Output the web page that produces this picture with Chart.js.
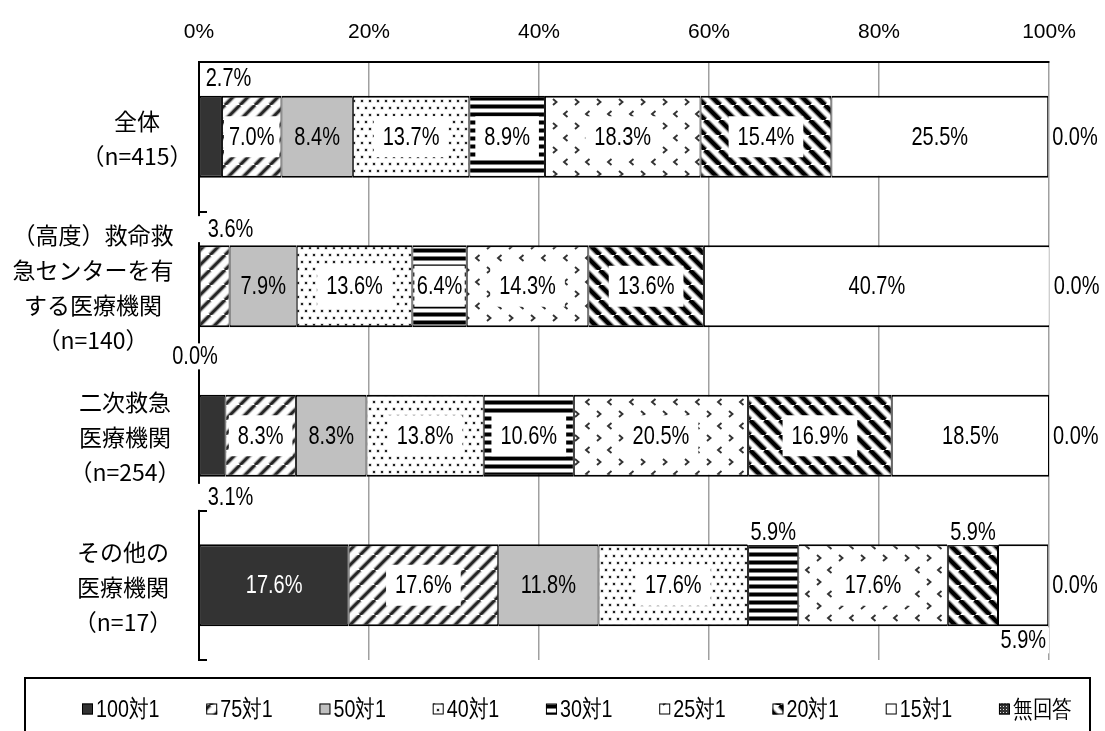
<!DOCTYPE html>
<html lang="ja">
<head>
<meta charset="utf-8">
<title>病床配置の割合</title>
<script src="https://cdn.jsdelivr.net/npm/chart.js@4.4.1/dist/chart.umd.min.js"></script>
<style>
  html, body { margin: 0; padding: 0; background: #fff; }
  #wrap { width: 1105px; height: 731px; position: relative; }
</style>
</head>
<body>
<div id="wrap"><canvas id="c" width="1105" height="731"></canvas></div>
<script>
// ---- data ----
const categories = [
  ['全体', '（n=415）'],
  ['（高度）救命救', '急センターを有', 'する医療機関', '（n=140）'],
  ['二次救急', '医療機関', '（n=254）'],
  ['その他の', '医療機関', '（n=17）']
];
const seriesNames = ['100対1', '75対1', '50対1', '40対1', '30対1', '25対1', '20対1', '15対1', '無回答'];
const r100 = [2.7, 0.0, 3.1, 17.6];
const r75  = [7.0, 3.6, 8.3, 17.6];
const r50  = [8.4, 7.9, 8.3, 11.8];
const r40  = [13.7, 13.6, 13.8, 17.6];
const r30  = [8.9, 6.4, 10.6, 5.9];
const r25  = [18.3, 14.3, 20.5, 17.6];
const r20  = [15.4, 13.6, 16.9, 5.9];
const r15  = [25.5, 40.7, 18.5, 5.9];
const rNone = [0.0, 0.0, 0.0, 0.0];
const tickValues = [0, 20, 40, 60, 80, 100];
const seriesValues = [r100, r75, r50, r40, r30, r25, r20, r15, rNone];

// ---- fill patterns ----
function makePattern(w, h, paint) {
  const c = document.createElement('canvas');
  c.width = w; c.height = h;
  const g = c.getContext('2d');
  g.fillStyle = '#fff';
  g.fillRect(0, 0, w, h);
  paint(g, w, h);
  return g.createPattern(c, 'repeat');
}
function diagonal(g, s, rising) {
  g.beginPath();
  for (let k = -1; k <= 1; k++) {
    if (rising) { g.moveTo(k * s, s); g.lineTo(k * s + s, 0); }
    else { g.moveTo(k * s, 0); g.lineTo(k * s + s, s); }
  }
  g.stroke();
}
const fillSolidDark = '#333333';
const fillRising = makePattern(15, 15, (g, s) => {
  g.strokeStyle = '#bdbdbd'; g.lineWidth = 5.4; diagonal(g, s, true);
  g.strokeStyle = '#262626'; g.lineWidth = 2.9; diagonal(g, s, true);
});
const fillGray = '#c0c0c0';
const fillDots = makePattern(8, 14, (g) => {
  g.fillStyle = '#bbb';
  g.fillRect(0.5, 1.5, 3, 3);
  g.fillRect(4.5, 8.5, 3, 3);
  g.fillStyle = '#222';
  g.fillRect(1, 2, 2, 2);
  g.fillRect(5, 9, 2, 2);
});
const fillHoriz = makePattern(8, 8, (g) => {
  g.fillStyle = '#9a9a9a'; g.fillRect(0, 0, 8, 5);
  g.fillStyle = '#000'; g.fillRect(0, 0.8, 8, 3.4);
});
const fillChevron = makePattern(22, 24, (g) => {
  g.strokeStyle = '#333'; g.lineWidth = 1.9;
  g.beginPath();
  g.moveTo(3, 3); g.lineTo(6.5, 6); g.lineTo(3, 9);
  g.moveTo(17.5, 15); g.lineTo(14, 18); g.lineTo(17.5, 21);
  g.stroke();
});
const fillFalling = makePattern(15, 15, (g, s) => {
  g.strokeStyle = '#9a9a9a'; g.lineWidth = 6.8; diagonal(g, s, false);
  g.strokeStyle = '#000'; g.lineWidth = 4.2; diagonal(g, s, false);
});
const fillWhite = '#ffffff';
const fillChecker = makePattern(3, 3, (g) => {
  g.fillStyle = '#333'; g.fillRect(0, 0, 3, 3);
  g.fillStyle = '#ddd'; g.fillRect(1, 1, 1, 1);
});
const seriesFills = [fillSolidDark, fillRising, fillGray, fillDots, fillHoriz, fillChevron, fillFalling, fillWhite, fillChecker];

// ---- text styles ----
const NUM_FAMILY = "'Liberation Sans', Arial, sans-serif";
const CJK_FAMILY = "'Noto Sans CJK JP', sans-serif";
const LABEL_SIZE = 25;       // value labels, horizontally condensed
const LABEL_SQUEEZE = 0.8;
const boxedSeries = [1, 3, 4, 5, 6, 7];   // labels on patterned fills get a white backing
const nameCenters = [137, 93, 125, 123];  // centre line of each category name block

// value labels that sit outside their segment: key = "category-series"
const labelPlacement = {
  '0-0': { pos: 'above', align: 'left',   dx: 6,  dy: -18, padL: 3 },
  '1-0': { pos: 'below', align: 'center', dx: -4, dy: 29,  padL: 3 },
  '1-1': { pos: 'above', align: 'left',   dx: 8,  dy: -16, padL: 11 },
  '2-0': { pos: 'below', align: 'left',   dx: 8,  dy: 20,  padL: 11 },
  '3-4': { pos: 'above', align: 'center', dx: 0,  dy: -12, padL: 3 },
  '3-6': { pos: 'above', align: 'center', dx: 0,  dy: -12, padL: 3 },
  '3-7': { pos: 'below', align: 'right',  dx: -2, dy: 14,  padL: 3 }
};

function narrowText(ctx, text, x, y, align, color, size, squeeze) {
  ctx.save();
  ctx.font = (size || LABEL_SIZE) + 'px ' + NUM_FAMILY;
  ctx.translate(x, y);
  ctx.scale(squeeze || LABEL_SQUEEZE, 1);
  ctx.textAlign = align;
  ctx.textBaseline = 'middle';
  ctx.fillStyle = color;
  ctx.fillText(text, 0, 1);
  ctx.restore();
}
function narrowWidth(ctx, text, size, squeeze) {
  ctx.save();
  ctx.font = (size || LABEL_SIZE) + 'px ' + NUM_FAMILY;
  const w = ctx.measureText(text).width * (squeeze || LABEL_SQUEEZE);
  ctx.restore();
  return w;
}

// inward tick marks on the category axis, at the category boundaries
const categoryTicks = {
  id: 'categoryTicks',
  afterDatasetsDraw(chart) {
    const { ctx, chartArea } = chart;
    const y = chart.scales.y;
    const edges = [chartArea.top, chartArea.bottom];
    for (let i = 1; i < categories.length; i++) {
      edges.push((y.getPixelForValue(i - 1) + y.getPixelForValue(i)) / 2);
    }
    ctx.save();
    ctx.strokeStyle = '#000';
    ctx.lineWidth = 2;
    edges.forEach(e => {
      ctx.beginPath();
      ctx.moveTo(chartArea.left, Math.round(e));
      ctx.lineTo(chartArea.left + 8, Math.round(e));
      ctx.stroke();
    });
    ctx.restore();
  }
};

// percentage labels on every segment
const valueLabels = {
  id: 'valueLabels',
  afterDatasetsDraw(chart) {
    const { ctx } = chart;
    const last = seriesValues.length - 1;
    chart.data.datasets.forEach((ds, d) => {
      const meta = chart.getDatasetMeta(d);
      meta.data.forEach((el, c) => {
        const v = ds.data[c];
        const text = v.toFixed(1) + '%';
        const start = Math.min(el.base, el.x), end = Math.max(el.base, el.x);
        const top = el.y - el.height / 2, bottom = el.y + el.height / 2;
        const tw = narrowWidth(ctx, text);
        const place = labelPlacement[c + '-' + d];
        if (d === last) {
          narrowText(ctx, text, end + 4, el.y, 'left', '#000');
          return;
        }
        if (place) {
          let ax = place.align === 'left' ? start : place.align === 'right' ? end : (start + end) / 2;
          ax += place.dx;
          const ay = (place.pos === 'above' ? top : bottom) + place.dy;
          const bx = place.align === 'left' ? ax : place.align === 'right' ? ax - tw : ax - tw / 2;
          ctx.fillStyle = '#fff';
          ctx.fillRect(bx - place.padL, ay - 13, tw + place.padL + 3, 26);
          narrowText(ctx, text, ax, ay, place.align, '#000');
          return;
        }
        const cx = (start + end) / 2;
        if (boxedSeries.includes(d)) {
          const bw = Math.min(tw + 18, end - start - 4);
          ctx.fillStyle = '#fff';
          ctx.fillRect(cx - bw / 2, el.y - 20.5, bw, 41);
        }
        narrowText(ctx, text, cx, el.y, 'center', d === 0 ? '#fff' : '#000');
      });
    });
  }
};

// multi-line category names left of the axis
const categoryNames = {
  id: 'categoryNames',
  afterDraw(chart) {
    const { ctx } = chart;
    const y = chart.scales.y;
    ctx.save();
    ctx.font = '23px ' + CJK_FAMILY;
    ctx.fillStyle = '#000';
    ctx.textAlign = 'center';
    ctx.textBaseline = 'middle';
    const lh = 35;
    categories.forEach((lines, i) => {
      const cy = y.getPixelForValue(i) + 2;
      const y0 = cy - (lines.length - 1) * lh / 2;
      lines.forEach((l, k) => ctx.fillText(l, nameCenters[i], y0 + k * lh));
    });
    ctx.restore();
  }
};

// framed legend row beneath the plot
const framedLegend = {
  id: 'framedLegend',
  afterDraw(chart) {
    const { ctx } = chart;
    ctx.save();
    ctx.strokeStyle = '#000';
    ctx.lineWidth = 2;
    ctx.strokeRect(25, 678, 1065, 80);
    const size = 24, squeeze = 0.82, box = 11, gapBox = 3;
    const widths = seriesNames.map(n => box + gapBox + narrowWidth(ctx, n, size, squeeze));
    const spanL = 82, spanR = 1072;
    const gap = (spanR - spanL - widths.reduce((a, b) => a + b, 0)) / (seriesNames.length - 1);
    let x = spanL;
    const cy = 709;
    seriesNames.forEach((n, i) => {
      ctx.fillStyle = seriesFills[i];
      ctx.fillRect(x, cy - box / 2, box, box);
      ctx.lineWidth = 1;
      ctx.strokeStyle = '#000';
      ctx.strokeRect(x + 0.5, cy - box / 2 + 0.5, box - 1, box - 1);
      narrowText(ctx, n, x + box + gapBox, cy, 'left', '#000', size, squeeze);
      x += widths[i] + gap;
    });
    ctx.restore();
  }
};

new Chart(document.getElementById('c'), {
  type: 'bar',
  data: {
    labels: categories,
    datasets: seriesNames.map((name, i) => ({
      label: name,
      data: seriesValues[i],
      backgroundColor: seriesFills[i],
      borderColor: '#000',
      borderWidth: { top: 2, bottom: 2, left: 1, right: 1 },
      borderSkipped: false,
      barPercentage: 0.55,
      categoryPercentage: 1.0
    }))
  },
  options: {
    indexAxis: 'y',
    responsive: false,
    animation: false,
    devicePixelRatio: 1,
    layout: { padding: { left: 0, right: 56, top: 0, bottom: 71 } },
    plugins: { legend: { display: false }, tooltip: { enabled: false } },
    scales: {
      x: {
        position: 'top',
        stacked: true,
        min: 0,
        max: 100,
        afterBuildTicks: s => { s.ticks = tickValues.map(v => ({ value: v })); },
        ticks: {
          callback: v => v + '%',
          color: '#000',
          font: { family: NUM_FAMILY, size: 21 },
          padding: 17,
          maxRotation: 0
        },
        grid: { color: '#a0a0a0', lineWidth: 1.5, drawTicks: false },
        border: { color: '#000', width: 2 },
        afterFit: s => { s.height = 62; }
      },
      y: {
        stacked: true,
        ticks: { display: false },
        grid: { display: false },
        border: { color: '#000', width: 2 },
        afterFit: s => { s.width = 199; }
      }
    }
  },
  plugins: [categoryTicks, valueLabels, categoryNames, framedLegend]
});
</script>
</body>
</html>
